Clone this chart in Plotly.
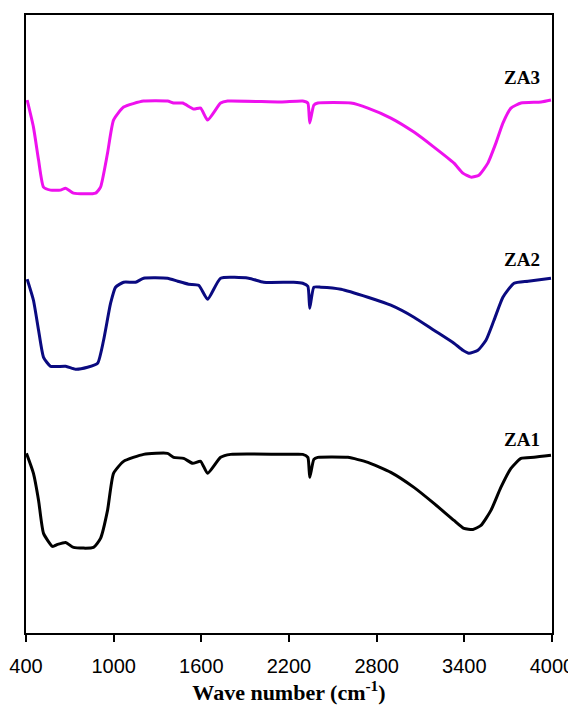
import plotly.graph_objects as go

# Wavenumber (cm^-1) and offset transmittance (a.u.)
za3_wn = [408, 451, 486, 520, 568, 636, 671, 725, 876, 910, 958, 999, 1068, 1205, 1369, 1410,
          1472, 1547, 1595, 1643, 1732, 1780, 2144, 2294, 2329, 2342, 2370, 2397, 2623, 2740,
          2897, 3055, 3192, 3329, 3390, 3445, 3500, 3561, 3616, 3664, 3719, 3788, 3925, 3993]
za3_t = [532.5, 505.5, 472.5, 445.5, 442.5, 442.5, 444.5, 439.5, 439.5, 445.5, 479.5, 512.5,
         525.5, 531.5, 531.5, 529.5, 529.5, 523.5, 524.5, 512.5, 529.5, 531.5, 530.5, 531.5,
         529.5, 509.5, 527.5, 529.5, 529.5, 524.5, 514.5, 500.5, 485.5, 469.5, 459.5, 455.5,
         457.5, 469.5, 489.5, 509.5, 524.5, 529.5, 530.5, 532.5]

za2_wn = [408, 451, 486, 520, 568, 671, 739, 821, 890, 931, 979, 1013, 1068, 1150, 1205, 1369,
          1438, 1513, 1582, 1643, 1732, 1924, 2027, 2232, 2294, 2329, 2342, 2370, 2418, 2555,
          2740, 2897, 3055, 3192, 3329, 3390, 3431, 3493, 3548, 3603, 3664, 3740, 3836, 3993]
za2_t = [353.5, 332.5, 302.5, 275.5, 266.5, 266.5, 263.5, 265.5, 269.5, 292.5, 329.5, 345.5,
         350.5, 350.5, 354.5, 354.5, 351.5, 348.5, 347.5, 333.5, 354.5, 354.5, 350.5, 350.5,
         349.5, 346.5, 324.5, 345.5, 345.5, 343.5, 335.5, 327.5, 315.5, 302.5, 289.5, 282.5,
         279.5, 282.5, 292.5, 312.5, 335.5, 349.5, 351.5, 354.5]

za1_wn = [403, 451, 486, 520, 582, 616, 671, 725, 862, 910, 958, 999, 1068, 1205, 1369, 1410,
          1479, 1541, 1595, 1643, 1732, 1801, 2191, 2294, 2329, 2342, 2370, 2397, 2603, 2740,
          2897, 3055, 3192, 3329, 3397, 3459, 3514, 3582, 3650, 3719, 3788, 3877, 3993]
za1_t = [179.5, 159.5, 132.5, 99.5, 86.5, 88.5, 90.5, 85.5, 85.5, 94.5, 122.5, 159.5, 171.5,
         178.5, 179.5, 175.5, 174.5, 169.5, 171.5, 159.5, 175.5, 178.5, 178.5, 178.5, 175.5,
         155.5, 173.5, 175.5, 175.5, 170.5, 160.5, 145.5, 129.5, 112.5, 104.5, 103.5, 107.5,
         122.5, 145.5, 164.5, 174.5, 175.5, 177.5]

series_names = ["ZA3", "ZA2", "ZA1"]
series_colors = ["#EE11EE", "#0A0A80", "#000000"]
label_y = [555.5, 373.5, 193.5]

x_ticks = [400, 1000, 1600, 2200, 2800, 3400, 4000]
x_title = "Wave number (cm<sup>-1</sup>)"

fig = go.Figure()
for name, xs, ys, col in zip(series_names, [za3_wn, za2_wn, za1_wn], [za3_t, za2_t, za1_t], series_colors):
    fig.add_trace(go.Scatter(x=xs, y=ys, mode="lines", name=name,
                             line=dict(color=col, width=3, shape="spline", smoothing=0.5)))

for name, ly in zip(series_names, label_y):
    fig.add_annotation(x=3797, y=ly, text="<b>" + name + "</b>", showarrow=False,
                       font=dict(family="Liberation Serif", size=19, color="black"))

# the page body adds an 8px offset, so the figure is sized to the remaining area
fig.update_layout(
    width=568, height=703,
    margin=dict(l=18, r=24, t=7, b=78),
    paper_bgcolor="white", plot_bgcolor="white",
    showlegend=False,
    xaxis=dict(range=[400, 4000], tickvals=x_ticks, ticktext=[str(v) for v in x_ticks],
               automargin=False,
               showline=True, linecolor="black", linewidth=1.5, mirror=True,
               ticks="outside", ticklen=7, tickwidth=1.5, tickcolor="black",
               ticklabelstandoff=7,
               showgrid=False, zeroline=False,
               tickfont=dict(family="Liberation Sans", size=20, color="black"),
               title=dict(text="<b>" + x_title + "</b>", standoff=3,
                          font=dict(family="Liberation Serif", size=22, color="black"))),
    yaxis=dict(range=[0, 617.5], automargin=False,
               showline=True, linecolor="black", linewidth=1.5, mirror=True,
               showticklabels=False, ticks="", showgrid=False, zeroline=False),
)

fig.write_html("out.html")
